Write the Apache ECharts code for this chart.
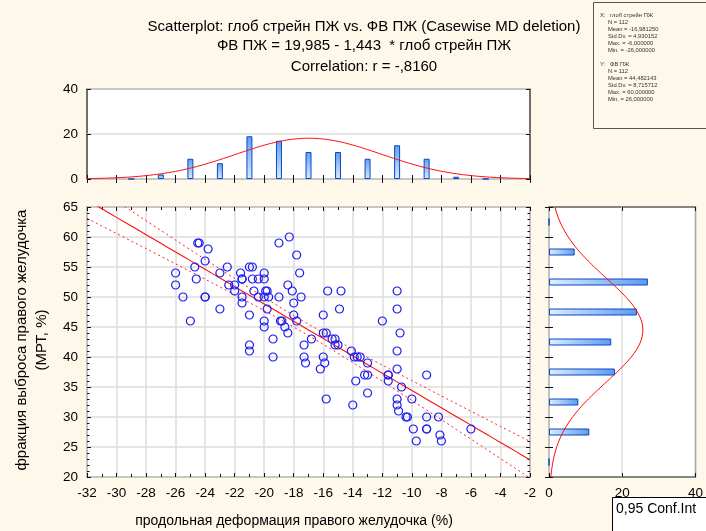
<!DOCTYPE html>
<html>
<head>
<meta charset="utf-8">
<script src="https://cdn.jsdelivr.net/npm/echarts@6/dist/echarts.min.js"></script>
<style>
  html, body { margin: 0; padding: 0; background: #fdf8ea; }
  #chart { width: 706px; height: 531px; }
</style>
</head>
<body>
<div id="chart"></div>
<script>
// RV longitudinal strain (%) vs RV ejection fraction by MRI (%), n = 112
const strainX = [
  -24.5, -24.4, -23.8, -24.0, -24.7, -26.0, -24.6, -26.0, -25.5, -24.0,
  -24.0, -23.0, -25.0, -23.0, -22.5, -22.4, -22.0, -22.0, -21.6, -21.5,
  -21.5, -21.0, -20.8, -20.0, -20.8, -20.4, -20.0, -20.7, -19.9, -19.8,
  -21.5, -21.5, -20.4, -20.0, -19.7, -19.0, -19.8, -21.0, -20.0, -20.0,
  -19.0, -18.3, -17.8, -17.6, -18.4, -18.1, -17.5, -18.0, -18.0, -17.8,
  -18.9, -18.6, -18.4, -19.4, -16.8, -16.0, -15.7, -14.8, -14.9, -11.0,
  -11.0, -12.0, -10.8, -16.0, -15.8, -15.4, -15.2, -15.2, -15.0, -17.3,
  -21.0, -21.0, -19.4, -17.3, -17.2, -16.2, -16.0, -15.9, -15.8, -14.1,
  -13.9, -13.7, -13.5, -13.0, -13.2, -13.0, -13.8, -13.0, -14.0, -11.6,
  -11.6, -11.0, -11.0, -10.7, -9.0, -10.0, -11.0, -11.0, -10.9, -10.4,
  -10.3, -9.0, -8.2, -9.9, -9.0, -9.0, -8.1, -8.0, -9.7, -6.0,
  -11.6, -18.8
];
const efY = [
  59, 59, 58, 56, 55, 54, 53, 52, 50, 50,
  50, 48, 46, 54, 55, 52, 52, 51, 54, 53,
  53, 55, 55, 54, 53, 53, 53, 51, 51, 51,
  50, 49, 50, 50, 50, 50, 48, 47, 46, 45,
  59, 60, 57, 54, 52, 51, 50, 49, 47, 46,
  46, 45, 44, 43, 43, 47, 51, 51, 48, 51,
  48, 46, 44, 44, 44, 43, 43, 42, 42, 42,
  42, 41, 40, 40, 39, 38, 40, 39, 33, 41,
  40, 40, 40, 39, 37, 37, 36, 34, 32, 37,
  36, 38, 41, 35, 37, 33, 33, 32, 31, 30,
  30, 30, 30, 28, 28, 28, 27, 26, 26, 28,
  37, 46
];

// Strain histogram: bins 2 wide, given by their centres
const strainBinCentres = [-29, -27, -25, -23, -21, -19, -17, -15, -13, -11, -9, -7, -5];
const strainBinCounts  = [0, 2, 9, 7, 19, 17, 12, 12, 9, 15, 9, 1, 0];

// EF histogram: bins 5 wide, bottom to top
const efBinLabels = ['20-25', '25-30', '30-35', '35-40', '40-45', '45-50', '50-55', '55-60', '60-65'];
const efBinCounts = [0, 11, 8, 18, 17, 24, 27, 7, 0];

// Descriptive statistics and the fitted regression
const nCases = 112;
const meanX = -16.98125, sdX = 4.930152;
const meanY = 44.482143, sdY = 8.715712;
const intercept = 19.985, slope = -1.443, corrR = -0.8160;
const strainBinWidth = 2, efBinWidth = 5;

const statsLinesX = ['N = 112', 'Mean = -16,981250', 'Std.Dv. = 4,930152', 'Max. = -6,000000', 'Min. = -26,000000'];
const statsLinesY = ['N = 112', 'Mean = 44,482143', 'Std.Dv. = 8,715712', 'Max. = 60,000000', 'Min. = 26,000000'];

const FONT = '"Liberation Sans", Arial, sans-serif';
const BG = '#fdf8ea';
const GRIDLINE = { show: true, lineStyle: { color: '#dcdcdc', width: 1.5 } };

function normalPdf(v, m, s) {
  const z = (v - m) / s;
  return Math.exp(-0.5 * z * z) / (s * Math.sqrt(2 * Math.PI));
}

// Normal curves scaled to histogram counts
const xCurve = [];
for (let v = -32; v <= -2 + 1e-9; v += 0.25) {
  xCurve.push([v, nCases * strainBinWidth * normalPdf(v, meanX, sdX)]);
}
const yCurve = [];
for (let v = 20; v <= 65 + 1e-9; v += 0.25) {
  yCurve.push([nCases * efBinWidth * normalPdf(v, meanY, sdY), v]);
}

// Regression line and its 95% confidence band for the mean
const sxx = (nCases - 1) * sdX * sdX;
const sResid = Math.sqrt((1 - corrR * corrR) * (nCases - 1) * sdY * sdY / (nCases - 2));
const tCrit = 1.9818;
const fitLine = [], ciUpper = [], ciLower = [];
for (let v = -32; v <= -2 + 1e-9; v += 0.5) {
  const yHat = intercept + slope * v;
  const half = tCrit * sResid * Math.sqrt(1 / nCases + (v - meanX) * (v - meanX) / sxx);
  fitLine.push([v, yHat]);
  ciUpper.push([v, yHat + half]);
  ciLower.push([v, yHat - half]);
}

const scatterData = strainX.map((x, i) => [x, efY[i]]);

const chart = echarts.init(document.getElementById('chart'), null, { renderer: 'canvas' });

const tickIn = (len) => ({ show: true, inside: true, length: len, lineStyle: { color: '#111', width: 1 } });
const labelStyle = { color: '#000', fontFamily: FONT, fontSize: 13.5 };
const gridBox = { show: true, backgroundColor: '#ffffff', borderColor: '#111', borderWidth: 1.2 };

const barGradV = new echarts.graphic.LinearGradient(0, 0, 0, 1, [
  { offset: 0, color: '#5f9ff0' }, { offset: 1, color: '#d9eaff' }
]);
const barGradH = new echarts.graphic.LinearGradient(0, 0, 1, 0, [
  { offset: 0, color: '#deeeff' }, { offset: 1, color: '#5a9bf0' }
]);

const option = {
  backgroundColor: BG,
  animation: false,
  grid: [
    Object.assign({ left: 87, top: 89, width: 443, height: 90 }, gridBox),
    Object.assign({ left: 87, top: 207, width: 443, height: 270 }, gridBox),
    Object.assign({ left: 549, top: 207, width: 148, height: 270 }, gridBox)
  ],
  xAxis: [
    // strain histogram
    { gridIndex: 0, type: 'value', min: -32, max: -2, interval: 2, position: 'bottom',
      axisLine: { show: false }, axisTick: tickIn(4), axisLabel: { show: false }, splitLine: { show: false } },
    { gridIndex: 0, type: 'value', min: -32, max: -2, interval: 2, position: 'top',
      axisLine: { show: false }, axisTick: tickIn(4), axisLabel: { show: false }, splitLine: { show: false } },
    // scatter
    { gridIndex: 1, type: 'value', min: -32, max: -2, interval: 2, position: 'bottom',
      axisLine: { show: false }, axisTick: tickIn(4),
      minorTick: { show: true, splitNumber: 2, length: 3, lineStyle: { color: '#111' } },
      axisLabel: Object.assign({ margin: 9 }, labelStyle), splitLine: GRIDLINE },
    { gridIndex: 1, type: 'value', min: -32, max: -2, interval: 2, position: 'top',
      axisLine: { show: false }, axisTick: tickIn(4),
      minorTick: { show: true, splitNumber: 2, length: 3, lineStyle: { color: '#111' } },
      axisLabel: { show: false }, splitLine: { show: false } },
    // EF histogram
    { gridIndex: 2, type: 'value', min: 0, max: 40, interval: 20, position: 'bottom',
      axisLine: { show: false }, axisTick: tickIn(4),
      axisLabel: Object.assign({ margin: 9 }, labelStyle), splitLine: GRIDLINE },
    { gridIndex: 2, type: 'value', min: 0, max: 40, interval: 20, position: 'top',
      axisLine: { show: false }, axisTick: tickIn(4), axisLabel: { show: false }, splitLine: { show: false } }
  ],
  yAxis: [
    // strain histogram
    { gridIndex: 0, type: 'value', min: 0, max: 40, interval: 20, position: 'left',
      axisLine: { show: false }, axisTick: tickIn(4),
      axisLabel: Object.assign({ margin: 9 }, labelStyle), splitLine: GRIDLINE },
    { gridIndex: 0, type: 'value', min: 0, max: 40, interval: 20, position: 'right',
      axisLine: { show: false }, axisTick: tickIn(4), axisLabel: { show: false }, splitLine: { show: false } },
    // scatter
    { gridIndex: 1, type: 'value', min: 20, max: 65, interval: 5, position: 'left',
      axisLine: { show: false }, axisTick: tickIn(4),
      minorTick: { show: true, splitNumber: 5, length: 2.5, lineStyle: { color: '#111' } },
      axisLabel: Object.assign({ margin: 9 }, labelStyle), splitLine: GRIDLINE },
    { gridIndex: 1, type: 'value', min: 20, max: 65, interval: 5, position: 'right',
      axisLine: { show: false }, axisTick: tickIn(4),
      minorTick: { show: true, splitNumber: 5, length: 2.5, lineStyle: { color: '#111' } },
      axisLabel: { show: false }, splitLine: { show: false } },
    // EF histogram (bins) and its curve axis
    { gridIndex: 2, type: 'category', data: efBinLabels, position: 'left', boundaryGap: true,
      axisLine: { show: false }, axisTick: tickIn(4), axisLabel: { show: false }, splitLine: { show: false } },
    { gridIndex: 2, type: 'category', data: efBinLabels, position: 'right', boundaryGap: true,
      axisLine: { show: false }, axisTick: tickIn(4), axisLabel: { show: false }, splitLine: { show: false } },
    { gridIndex: 2, type: 'value', min: 20, max: 65, show: false }
  ],
  series: [
    { type: 'bar', xAxisIndex: 0, yAxisIndex: 0, barWidth: 6,
      data: strainBinCentres.map((c, i) => [c, strainBinCounts[i]]),
      itemStyle: { color: barGradV, borderColor: '#0b47c4', borderWidth: 1 } },
    { type: 'line', xAxisIndex: 0, yAxisIndex: 0, data: xCurve, showSymbol: false, symbol: 'none',
      lineStyle: { color: '#ff1010', width: 1 }, z: 5 },
    { type: 'line', xAxisIndex: 2, yAxisIndex: 2, data: fitLine, symbol: 'none', clip: true,
      lineStyle: { color: '#ff1010', width: 1.1 }, z: 3 },
    { type: 'line', xAxisIndex: 2, yAxisIndex: 2, data: ciUpper, symbol: 'none', clip: true,
      lineStyle: { color: '#ff2020', width: 1, type: [2, 3] }, z: 3 },
    { type: 'line', xAxisIndex: 2, yAxisIndex: 2, data: ciLower, symbol: 'none', clip: true,
      lineStyle: { color: '#ff2020', width: 1, type: [2, 3] }, z: 3 },
    { type: 'scatter', xAxisIndex: 2, yAxisIndex: 2, data: scatterData, symbol: 'circle', symbolSize: 8,
      itemStyle: { color: 'rgba(0,0,0,0)', borderColor: '#1c1cf0', borderWidth: 1.2, opacity: 1 }, z: 4 },
    { type: 'bar', xAxisIndex: 4, yAxisIndex: 4, barWidth: 7, data: efBinCounts,
      itemStyle: { color: barGradH, borderColor: '#0b47c4', borderWidth: 1 } },
    { type: 'line', xAxisIndex: 4, yAxisIndex: 6, data: yCurve, symbol: 'none',
      lineStyle: { color: '#ff1010', width: 1 }, z: 5 }
  ],
  graphic: [
    // title block
    { type: 'text', x: 364, y: 27, style: { text: 'Scatterplot: глоб стрейн ПЖ vs. ФВ ПЖ (Casewise MD deletion)',
      font: '15px ' + FONT, fill: '#000', textAlign: 'center', textVerticalAlign: 'middle' } },
    { type: 'text', x: 364, y: 46, style: { text: 'ФВ ПЖ = 19,985 - 1,443  * глоб стрейн ПЖ',
      font: '15px ' + FONT, fill: '#000', textAlign: 'center', textVerticalAlign: 'middle' } },
    { type: 'text', x: 364, y: 67, style: { text: 'Correlation: r = -,8160',
      font: '15px ' + FONT, fill: '#000', textAlign: 'center', textVerticalAlign: 'middle' } },
    // descriptive statistics box
    { type: 'rect', shape: { x: 593.5, y: 2.5, width: 130, height: 126 },
      style: { fill: BG, stroke: '#555', lineWidth: 1 } },
    { type: 'text', x: 600, y: 15.5, style: { text: 'X:', font: '5.8px ' + FONT, fill: '#333', textVerticalAlign: 'middle' } },
    { type: 'text', x: 610, y: 15.5, style: { text: 'глоб стрейн ПЖ', font: '5.8px ' + FONT, fill: '#333', textVerticalAlign: 'middle' } },
    ...statsLinesX.map((t, i) => ({ type: 'text', x: 608, y: 22.7 + 7 * i,
      style: { text: t, font: '5.8px ' + FONT, fill: '#333', textVerticalAlign: 'middle' } })),
    { type: 'text', x: 600, y: 64, style: { text: 'Y:', font: '5.8px ' + FONT, fill: '#333', textVerticalAlign: 'middle' } },
    { type: 'text', x: 610, y: 64, style: { text: 'ФВ ПЖ', font: '5.8px ' + FONT, fill: '#333', textVerticalAlign: 'middle' } },
    ...statsLinesY.map((t, i) => ({ type: 'text', x: 608, y: 71 + 7 * i,
      style: { text: t, font: '5.8px ' + FONT, fill: '#333', textVerticalAlign: 'middle' } })),
    // axis titles
    { type: 'text', x: 32, y: 340, rotation: Math.PI / 2,
      style: { text: 'фракция выброса правого желудочка\n(МРТ, %)', font: '15px ' + FONT, fill: '#000',
        textAlign: 'center', textVerticalAlign: 'middle', lineHeight: 20 } },
    { type: 'text', x: 294, y: 521, style: { text: 'продольная деформация правого желудочка (%)',
      font: '14px ' + FONT, fill: '#000', textAlign: 'center', textVerticalAlign: 'middle' } },
    // confidence interval key
    { type: 'rect', z: 100, shape: { x: 612.5, y: 497.5, width: 110, height: 45 },
      style: { fill: '#ffffff', stroke: '#000', lineWidth: 1 } },
    { type: 'text', z: 101, x: 616, y: 509, style: { text: '0,95 Conf.Int', font: '14px ' + FONT, fill: '#000',
      textVerticalAlign: 'middle' } }
  ]
};

chart.setOption(option);
</script>
</body>
</html>
